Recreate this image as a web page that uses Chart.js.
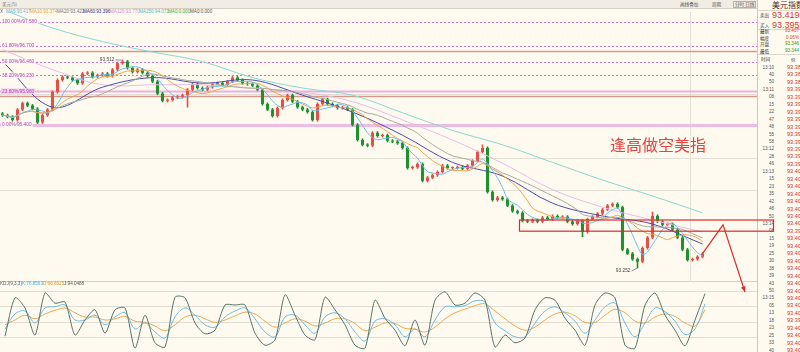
<!DOCTYPE html>
<html>
<head>
<meta charset="utf-8">
<script src="https://cdn.jsdelivr.net/npm/chart.js@4.4.1/dist/chart.umd.min.js"></script>
<style>
  body { margin: 0; background: #fffaf0; }
  #wrap { position: relative; width: 800px; height: 352px; overflow: hidden; background: #fffaf0;
          font-family: "Liberation Sans", "DejaVu Sans", sans-serif; }
  .abs { position: absolute; white-space: nowrap; }
  #top { left: 0; top: 0; width: 757px; height: 8px; background: #f1ede4; border-bottom: 1px solid #d6d0c4; }
  .tiny { font-size: 4.6px; line-height: 6px; }
  .cjk { font-family: "Noto Sans CJK SC", sans-serif; }
  #side { left: 757px; top: 0; width: 43px; height: 352px; border-left: 1px solid #cfc8bb; background: #fffaf0; overflow: hidden; }
  .hl { position: absolute; left: 0; width: 43px; height: 1px; background: #ddd6ca; }
  canvas { position: absolute; }
</style>
</head>
<body>
<div id="wrap">
  <canvas id="kdj" width="757" height="70" style="left:0;top:282px"></canvas>
  <div class="abs" id="top">
    <span class="abs tiny cjk" style="left:2px;top:1px;color:#777">美元(5)</span>
    <span class="abs tiny cjk" style="left:680px;top:1px;color:#555">画线叠加</span>
    <span class="abs tiny cjk" style="left:712px;top:1px;color:#555">周期</span>
    <span class="abs tiny cjk" style="left:733px;top:0.5px;color:#555;border:1px solid #b9b2a6;padding:0 1px;line-height:5px">分时 日线</span>
  </div>
  <div id="mahead"></div>
  <div class="abs" style="left:0;top:281px;width:757px;height:1px;background:#d8d2c6"></div>
  <div id="kdjhead"></div>
  <div class="abs" id="side"></div>
  <canvas id="main" width="800" height="352" style="left:0;top:0"></canvas>
</div>
<script>
// candle closes, one every 5px from left
const closes = [
  93.443, 93.441, 93.437, 93.450, 93.458, 93.455, 93.451, 93.434, 93.443, 93.450,
  93.472, 93.487, 93.491, 93.490, 93.487, 93.483, 93.495, 93.496, 93.491, 93.493,
  93.495, 93.492, 93.500, 93.508, 93.510, 93.502, 93.497, 93.500, 93.496, 93.492,
  93.485, 93.470, 93.461, 93.462, 93.465, 93.466, 93.468, 93.475, 93.482, 93.477,
  93.475, 93.478, 93.482, 93.483, 93.481, 93.485, 93.490, 93.487, 93.483, 93.482,
  93.480, 93.475, 93.457, 93.450, 93.442, 93.452, 93.462, 93.468, 93.460, 93.453,
  93.450, 93.447, 93.437, 93.457, 93.463, 93.457, 93.455, 93.452, 93.453, 93.450,
  93.431, 93.412, 93.406, 93.405, 93.421, 93.417, 93.418, 93.411, 93.410, 93.408,
  93.402, 93.377, 93.378, 93.382, 93.361, 93.365, 93.368, 93.372, 93.380, 93.377,
  93.377, 93.378, 93.376, 93.380, 93.386, 93.397, 93.402, 93.347, 93.337, 93.340,
  93.338, 93.330, 93.323, 93.321, 93.311, 93.310, 93.312, 93.310, 93.315, 93.313,
  93.317, 93.315, 93.316, 93.310, 93.307, 93.311, 93.297, 93.313, 93.316, 93.320,
  93.325, 93.330, 93.332, 93.328, 93.275, 93.270, 93.263, 93.260, 93.277, 93.290,
  93.317, 93.310, 93.306, 93.307, 93.300, 93.290, 93.275, 93.262, 93.263, 93.266,
  93.270
];
const firstOpen = 93.445;
const highIdx = [24, 96, 130];
const highVals = [93.512, 93.406, 93.322];
const lowIdx = [37, 116, 127];
const lowVals = [93.453, 93.291, 93.252];

// long moving averages, one value every 10 candles
const maSlots = [0, 10, 20, 30, 40, 50, 60, 70, 80, 90, 100, 110, 120, 130, 140];
const ma60Pts = [93.510, 93.453, 93.478, 93.490, 93.483, 93.487, 93.468, 93.447, 93.418, 93.384, 93.367, 93.333, 93.317, 93.307, 93.282];
const ma120Pts = [93.525, 93.500, 93.481, 93.481, 93.481, 93.477, 93.472, 93.460, 93.437, 93.412, 93.383, 93.350, 93.328, 93.312, 93.297];
const ma250Pts = [93.575, 93.552, 93.535, 93.522, 93.510, 93.490, 93.477, 93.468, 93.446, 93.424, 93.406, 93.384, 93.362, 93.342, 93.321];

const maNames = ['MA5:93.417', 'MA10:93.374', 'MA20:93.422', 'MA60:93.396', 'MA120:93.770', 'MA250:94.071', 'MA0:0.000', 'MA0:0.000'];

// fibonacci levels
const fibPrices = [93.560, 93.530, 93.523, 93.510, 93.493, 93.473, 93.467, 93.431];
const fibLabels = ['100.00%/97.580', '61.80%/96.700', '', '50.00%/96.460', '38.20%/96.230', '23.60%/95.960', '', '0.00%/95.400'];

const gridPrices = [93.470, 93.430, 93.390, 93.350];

// KDJ(9,3,3), one value every 10px
const kLine = [35,60,65,45,70,72,75,50,50,58,42,55,62,35,45,30,20,55,70,58,42,38,55,65,70,52,30,22,55,58,42,28,55,62,52,30,15,48,52,42,22,35,22,50,72,72,74,82,80,45,32,22,22,45,65,72,62,48,28,50,72,78,45,22,45,70,64,48,26,35,77];
const dLine = [42,50,58,52,60,66,70,62,55,55,50,52,56,48,46,40,32,42,55,58,52,46,50,57,63,60,48,38,45,52,48,40,45,52,52,44,32,38,45,44,36,35,30,38,52,62,68,74,77,65,52,40,33,38,50,60,63,57,46,46,58,68,62,48,45,55,60,56,45,40,67];
const jLine = [23,87,70,25,95,78,80,25,50,67,28,67,70,3,58,12,5,88,87,45,27,33,75,75,75,28,8,17,92,58,25,17,88,67,42,8,3,83,53,33,7,50,8,83,97,75,78,95,83,5,25,12,20,67,87,83,53,33,8,75,95,87,8,3,75,95,58,33,7,50,94];
const kdjGrid = [98, 73, 47, 22];

// quote panel
const quoteNames = ['卖出', '买入', '最新', '幅度', '开盘', '最低'];
const quoteVals = ['93.419', '93.395', '93.407', '0.06%', '93.346', '93.344'];
const tickTimes = ['13:10','40','50','13:11','08','15','22','47','48','55','58','13:12','28','46','13:13','15','23','35','42','48','50','13:14','08','15','19','25','30','38','39','43','50','13:15','05','13','18','23','25','33','40'];
const tickPrices = ['93.382','93.385','93.387','93.390','93.392','93.391','93.394','93.396','93.395','93.397','93.398','93.397','93.399','93.398',
  '93.401','93.403','93.404','93.402','93.405','93.406','93.404','93.403','93.399','93.402','93.404','93.405','93.407','93.406',
  '93.405','93.407','93.408','93.406','93.405','93.404','93.398','93.403','93.405','93.406','93.407'];

// annotations (slot index, price)
const boxZone = { x0: 103.4, x1: 154.2, top: 93.312, bottom: 93.298 };
const arrowPts = [[140, 93.270], [144.1, 93.306], [148.5, 93.222]];
const noteText = '逢高做空美指';
const notePos = [122, 93.406];

// ---------- header / side panel ----------
const maColors = ['#55b8e0', '#e89a30', '#777777', '#2e2e8c', '#e08ad8', '#44c4c4', '#33aa33', '#555555'];
const maLeft = [6, 30, 57, 83, 110, 139, 168, 190];
let h = '<span class="abs tiny" style="left:0;top:9px;color:#555">X</span>';
maNames.forEach((t, i) => {
  h += `<span class="abs tiny" style="left:${maLeft[i]}px;top:9px;color:${maColors[i]}">${t}</span>`;
});
document.getElementById('mahead').innerHTML = h;

const kdjTexts = ['KDJ(9,3,3)', 'K:76.8563', 'D:66.6525', 'J:94.0488'];
const kdjTextColors = ['#666', '#4aaedc', '#e39a35', '#555'];
const kdjLeft = [0, 22, 43, 64];
h = '';
kdjTexts.forEach((t, i) => {
  h += `<span class="abs tiny" style="left:${kdjLeft[i]}px;top:281px;color:${kdjTextColors[i]}">${t}</span>`;
});
document.getElementById('kdjhead').innerHTML = h;

let s = '<span class="abs cjk" style="left:14px;top:0px;font-size:8px;line-height:10px;color:#5a2a18">美元指数</span>';
s += '<div class="hl" style="top:10px"></div><div class="hl" style="top:29px"></div><div class="hl" style="top:54px"></div>';
const qTop = [15, 25, 31, 37.5, 43.5, 50.5];
quoteNames.forEach((n, i) => {
  const big = i < 2;
  const col = i >= 4 ? '#2a9a2a' : '#e03a30';
  s += `<span class="abs tiny cjk" style="left:2px;top:${qTop[i] - 3}px;color:#333">${n}</span>`;
  if (big) s += `<span class="abs" style="left:14px;top:${qTop[i] - 5}px;font-size:9px;line-height:10px;color:${col}">${quoteVals[i]}</span>`;
  else s += `<span class="abs tiny" style="right:2px;top:${qTop[i] - 3}px;color:${col}">${quoteVals[i]}</span>`;
});
s += '<span class="abs tiny cjk" style="left:3px;top:56px;color:#333">时间</span><span class="abs tiny cjk" style="left:33px;top:56px;color:#333">价</span>';
tickTimes.forEach((t, i) => {
  const y = 67.5 + i * 7.45 - 3;
  s += `<span class="abs tiny" style="right:27px;top:${y}px;color:#555">${t}</span>`;
  s += `<span class="abs" style="left:29px;top:${y - 0.5}px;font-size:5.6px;line-height:7px;color:#d03030">${tickPrices[i]}</span>`;
});
document.getElementById('side').innerHTML = s;

// ---------- main chart ----------
const N = 151;
const slots = Array.from({ length: N }, (_, i) => i);
const opens = closes.map((c, i) => (i === 0 ? firstOpen : closes[i - 1]));
const wick = 0.0015;
const highs = closes.map((c, i) => Math.max(c, opens[i]) + wick);
const lows = closes.map((c, i) => Math.min(c, opens[i]) - wick);
highIdx.forEach((k, j) => { highs[k] = highVals[j]; });
lowIdx.forEach((k, j) => { lows[k] = lowVals[j]; });
const candleColors = closes.map((c, i) => (c >= opens[i] ? '#e2504a' : '#1f8f2f'));

function ma(n) {
  return closes.map((_, i) => {
    const w = closes.slice(Math.max(0, i - n + 1), i + 1);
    return w.reduce((a, b) => a + b, 0) / w.length;
  });
}
function sparse(pts) {
  const arr = new Array(closes.length).fill(null);
  pts.forEach((v, j) => { arr[maSlots[j]] = v; });
  return arr;
}
function maLine(label, data, color, order) {
  return { type: 'line', label, data, borderColor: color, borderWidth: 1,
    pointRadius: 0, tension: 0.35, spanGaps: true, order };
}

const mainDecor = {
  id: 'mainDecor',
  beforeDatasetsDraw(chart) {
    const { ctx, chartArea: a, scales: { x, y } } = chart;
    ctx.save();
    ctx.strokeStyle = '#e5e0d5';
    ctx.lineWidth = 1;
    gridPrices.forEach(p => {
      const py = Math.round(y.getPixelForValue(p)) + 0.5;
      ctx.beginPath(); ctx.moveTo(0, py); ctx.lineTo(757, py); ctx.stroke();
    });
    const vx = Math.round(x.getPixelForValue(137.5)) + 0.5;
    ctx.beginPath(); ctx.moveTo(vx, a.top); ctx.lineTo(vx, a.bottom); ctx.stroke();
    // fib lines
    const kinds = ['dash', 'dash', 'brown', 'dash', 'dash', 'pink', 'brown', 'pinkThick'];
    fibPrices.forEach((p, i) => {
      const py = Math.round(y.getPixelForValue(p)) + 0.5;
      ctx.setLineDash([]);
      if (kinds[i] === 'dash') { ctx.strokeStyle = '#c878d0'; ctx.lineWidth = 1; ctx.setLineDash([2, 2]); }
      else if (kinds[i] === 'brown') { ctx.strokeStyle = '#d29a8c'; ctx.lineWidth = 1.3; }
      else if (kinds[i] === 'pink') { ctx.strokeStyle = '#eab0e0'; ctx.lineWidth = 2; }
      else { ctx.strokeStyle = '#ecbce6'; ctx.lineWidth = 3; }
      ctx.beginPath(); ctx.moveTo(0, py); ctx.lineTo(757, py); ctx.stroke();
    });
    ctx.restore();
  },
  afterDatasetsDraw(chart) {
    const { ctx, scales: { x, y } } = chart;
    ctx.save();
    ctx.font = '4.8px "Liberation Sans", sans-serif';
    ctx.textBaseline = 'middle';
    fibLabels.forEach((t, i) => {
      if (!t) return;
      const py = y.getPixelForValue(fibPrices[i]);
      const w = ctx.measureText(t).width;
      ctx.fillStyle = i === 5 ? '#f6d2ee' : '#fffaf0';
      ctx.fillRect(1, py - 2.8, w + 2, 5.6);
      ctx.fillStyle = '#b040b8';
      ctx.fillText(t, 2, py);
    });
    // high / low marks
    ctx.fillStyle = '#444';
    ctx.strokeStyle = '#666';
    ctx.lineWidth = 0.7;
    const hx = x.getPixelForValue(highIdx[0]), hy = y.getPixelForValue(highVals[0]);
    ctx.textAlign = 'right';
    ctx.fillText(highVals[0].toFixed(3), hx - 8, hy);
    ctx.beginPath(); ctx.moveTo(hx - 7, hy); ctx.lineTo(hx - 1, hy); ctx.stroke();
    const lx = x.getPixelForValue(lowIdx[2]), ly = y.getPixelForValue(lowVals[2]);
    ctx.fillText(lowVals[2].toFixed(3), lx - 7, ly + 3);
    ctx.beginPath(); ctx.moveTo(lx - 6, ly + 3); ctx.lineTo(lx, ly); ctx.stroke();
    // zone box
    ctx.strokeStyle = '#e02a2a';
    ctx.lineWidth = 1.2;
    const bx0 = x.getPixelForValue(boxZone.x0), bx1 = x.getPixelForValue(boxZone.x1);
    const by0 = y.getPixelForValue(boxZone.top), by1 = y.getPixelForValue(boxZone.bottom);
    ctx.strokeRect(bx0, by0, bx1 - bx0, by1 - by0);
    // arrow
    ctx.beginPath();
    arrowPts.forEach(([i, p], k) => {
      const px = x.getPixelForValue(i), py = y.getPixelForValue(p);
      if (k === 0) ctx.moveTo(px, py); else ctx.lineTo(px, py);
    });
    ctx.stroke();
    const [ai, ap] = arrowPts[arrowPts.length - 1];
    const [bi, bp] = arrowPts[arrowPts.length - 2];
    const ex = x.getPixelForValue(ai), ey = y.getPixelForValue(ap);
    const sx = x.getPixelForValue(bi), sy = y.getPixelForValue(bp);
    const ang = Math.atan2(ey - sy, ex - sx);
    ctx.fillStyle = '#e02a2a';
    ctx.beginPath();
    ctx.moveTo(ex, ey);
    ctx.lineTo(ex - 6 * Math.cos(ang - 0.4), ey - 6 * Math.sin(ang - 0.4));
    ctx.lineTo(ex - 6 * Math.cos(ang + 0.4), ey - 6 * Math.sin(ang + 0.4));
    ctx.closePath(); ctx.fill();
    // note
    ctx.textAlign = 'left';
    ctx.font = '16px "Noto Sans CJK SC", sans-serif';
    ctx.fillStyle = '#e8403a';
    ctx.fillText(noteText, x.getPixelForValue(notePos[0]) - 2.5, y.getPixelForValue(notePos[1]));
    ctx.restore();
  }
};

new Chart(document.getElementById('main'), {
  type: 'bar',
  data: {
    labels: slots,
    datasets: [
      maLine('MA5', ma(5), '#6cc0ea', 0),
      maLine('MA10', ma(10), '#eda54a', 1),
      maLine('MA20', ma(20), '#a8a8a0', 2),
      maLine('MA60', sparse(ma60Pts), '#4b4ba8', 3),
      maLine('MA120', sparse(ma120Pts), '#e8bce6', 4),
      maLine('MA250', sparse(ma250Pts), '#86d8d2', 5),
      { label: 'body', data: closes.map((c, i) => [opens[i], c]), backgroundColor: candleColors,
        barPercentage: 0.62, categoryPercentage: 1, grouped: false, minBarLength: 1, order: 10 },
      { label: 'wick', data: closes.map((c, i) => [lows[i], highs[i]]), backgroundColor: candleColors,
        barThickness: 1, grouped: false, order: 11 }
    ]
  },
  options: {
    responsive: false,
    animation: false,
    layout: { padding: { left: 0, top: 12, right: 45, bottom: 70 } },
    plugins: { legend: { display: false }, tooltip: { enabled: false } },
    scales: {
      x: { display: false },
      y: { display: false, min: 93.2345, max: 93.572 }
    }
  },
  plugins: [mainDecor]
});

// ---------- KDJ panel ----------
const kdjDecor = {
  id: 'kdjDecor',
  beforeDatasetsDraw(chart) {
    const { ctx, scales: { y } } = chart;
    ctx.save();
    ctx.strokeStyle = '#e3ded3';
    ctx.lineWidth = 1;
    kdjGrid.forEach(v => {
      const py = Math.round(y.getPixelForValue(v)) + 0.5;
      ctx.beginPath(); ctx.moveTo(0, py); ctx.lineTo(757, py); ctx.stroke();
    });
    ctx.restore();
  }
};

new Chart(document.getElementById('kdj'), {
  type: 'line',
  data: {
    labels: Array.from({ length: 75 }, (_, i) => i),
    datasets: [
      { label: 'J', data: jLine, borderColor: '#56736b', borderWidth: 1, pointRadius: 0, tension: 0.25 },
      { label: 'K', data: kLine, borderColor: '#6cbde0', borderWidth: 1, pointRadius: 0, tension: 0.35 },
      { label: 'D', data: dLine, borderColor: '#e8aa55', borderWidth: 1, pointRadius: 0, tension: 0.35 }
    ]
  },
  options: {
    responsive: false,
    animation: false,
    layout: { padding: { left: 0, top: 0, right: 7, bottom: 0 } },
    plugins: { legend: { display: false }, tooltip: { enabled: false } },
    scales: {
      x: { display: false, offset: true },
      y: { display: false, min: -3.33, max: 113.33 }
    }
  },
  plugins: [kdjDecor]
});
</script>
</body>
</html>
